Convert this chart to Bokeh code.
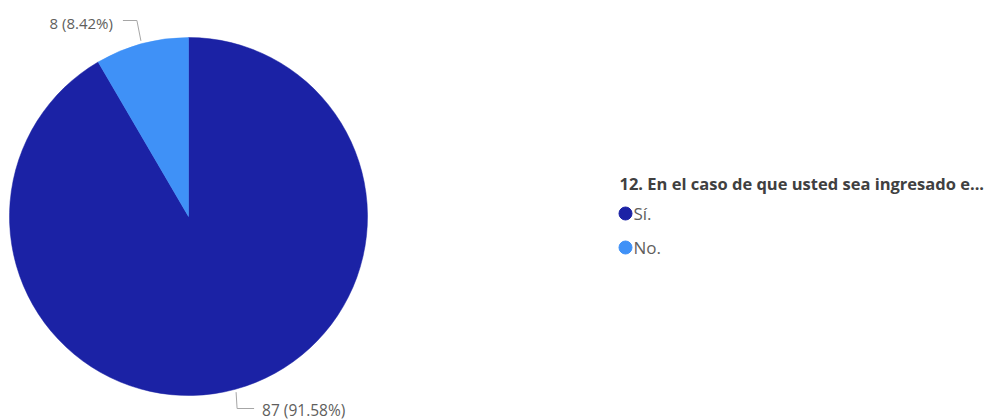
import math
from bokeh.plotting import figure
from bokeh.models import Range1d
from bokeh.core.properties import value
from bokeh.embed import file_html
from bokeh.resources import INLINE

# Data
categories = ["Sí.", "No."]
counts = [87, 8]
colors = ["#1B22A5", "#3F91F7"]
legend_title = "12. En el caso de que usted sea ingresado e..."

W, H = 1001, 419
total = sum(counts)
percents = [c / total * 100 for c in counts]
labels = [f"{c} ({p:.2f}%)" for c, p in zip(counts, percents)]

p = figure(width=W, height=H, output_backend="svg", toolbar_location=None,
           x_range=Range1d(0, W), y_range=Range1d(0, H), min_border=0)
p.axis.visible = False
p.grid.visible = False
p.outline_line_color = None
p.background_fill_color = "white"

cx, cy, R = 188, H - 216, 179

start = math.pi / 2
angles = []
cur = start
for c in counts:
    sweep = c / total * 2 * math.pi
    angles.append((cur - sweep, cur))
    cur -= sweep
for (a0, a1), col in zip(angles, colors):
    p.wedge(x=cx, y=cy, radius=R, start_angle=a0, end_angle=a1,
            fill_color=col, line_color=col, line_width=0.5)

font = value("Open Sans")
label_color = "#605E5C"
line_color = "#A6A6A6"
# No. slice label (top-left)
a0, a1 = angles[1]
mid = (a0 + a1) / 2
sx, sy = cx + (R + 3) * math.cos(mid), cy + (R + 3) * math.sin(mid)
p.line(x=[sx, sx - 4, sx - 18], y=[sy, H - 20, H - 20], line_color=line_color, line_width=1)
p.text(x=[sx - 28], y=[H - 22], text=[labels[1]], text_font=font, text_font_size="15px",
       text_color=label_color, text_align="right", text_baseline="middle")
# Sí. slice label (bottom)
a0, a1 = angles[0]
mid = (a0 + a1) / 2
sx, sy = cx + (R + 3) * math.cos(mid), cy + (R + 3) * math.sin(mid)
p.line(x=[sx, sx + 1, sx + 18], y=[sy, H - 408, H - 408], line_color=line_color, line_width=1)
p.text(x=[sx + 26], y=[H - 409], text=[labels[0]], text_font=font, text_font_size="15.5px",
       text_color=label_color, text_align="left", text_baseline="middle")

# Legend
p.text(x=[619], y=[H - 183], text=[legend_title], text_font=font, text_font_size="16.5px",
       text_font_style="bold", text_color="#404040", text_baseline="middle")
ly = [H - 213, H - 247]
p.scatter(x=[625, 625], y=ly, size=13, marker="circle", fill_color=colors, line_color=colors)
p.text(x=[633, 633], y=ly, text=categories, text_font=font, text_font_size="17px",
       text_color="#605E5C", text_baseline="middle")

open("out.html", "w").write(file_html(p, INLINE))
